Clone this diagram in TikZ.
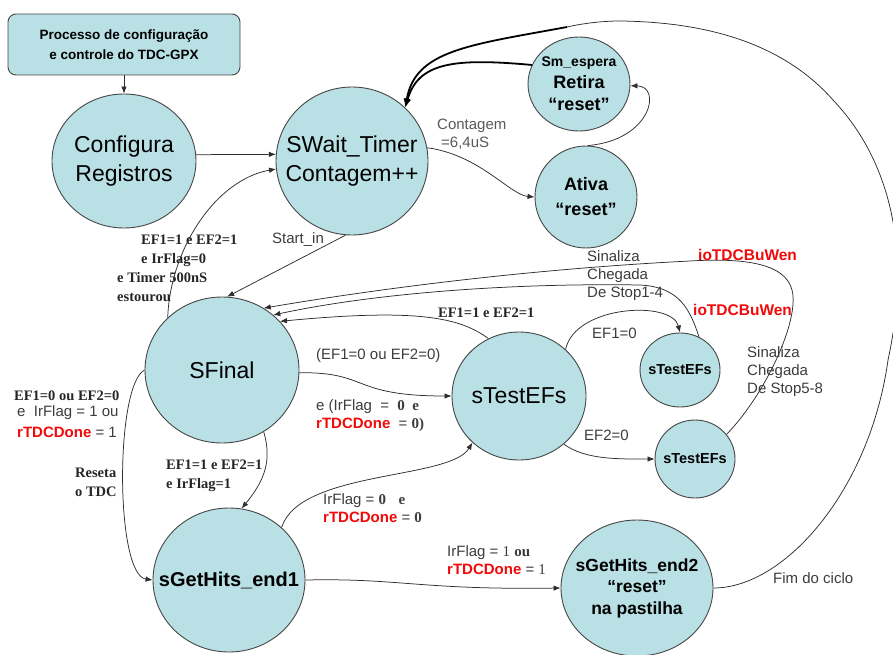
\documentclass[tikz,border=0pt]{standalone}
\usepackage{fontspec}
\setmainfont{Liberation Sans}
\newfontfamily\tnr{Liberation Serif}
\usetikzlibrary{shapes.geometric,arrows.meta}
\definecolor{fillc}{RGB}{185,224,228}
\definecolor{edgec}{RGB}{70,70,70}
\definecolor{linec}{RGB}{45,45,45}
\definecolor{lblc}{RGB}{60,60,60}
\definecolor{redc}{RGB}{240,10,10}
\newcommand\rd[1]{\textcolor{redc}{\bfseries #1}}
\newcommand\tb[1]{{\tnr\bfseries #1}}
\begin{document}
\begin{tikzpicture}[x=1pt,y=-1pt,
  st/.style={ellipse,draw=edgec,fill=fillc,line width=0.9pt,inner sep=0pt},
  bigtxt/.style={align=center,font=\fontsize{23}{28.5}\selectfont},
  conn/.style={draw=linec,line width=0.75pt,-{Latex[length=7pt,width=5.5pt]}},
  heavy/.style={draw=black,line width=1.8pt,-{Latex[length=9pt,width=7pt]}},
  plain/.style={draw=linec,line width=0.75pt},
  lbl/.style={font=\fontsize{15}{18}\selectfont,text=lblc,inner sep=0pt,align=left,anchor=west},
  slbl/.style={font=\tnr\bfseries\fontsize{14.5}{19}\selectfont,text=black!85,inner sep=0pt,align=left,anchor=west},
  rlbl/.style={font=\bfseries\fontsize{15.5}{18}\selectfont,text=redc,inner sep=0pt,anchor=west}]
\useasboundingbox (0,0) rectangle (893,655);

% nodes
\node[draw=edgec,fill=fillc,line width=0.9pt,rounded corners=8pt,minimum width=232pt,minimum height=61pt,
      align=center,font=\bfseries\fontsize{13.5}{20}\selectfont] (box) at (124,44.5)
      {Processo de configuração\\e controle do TDC-GPX};
\node[st,minimum width=144pt,minimum height=134pt,label={[bigtxt]center:Configura\\Registros}] (cfg) at (124,161) {};
\node[st,minimum width=152pt,minimum height=148pt,label={[bigtxt]center:SWait\_Timer\\Contagem++}] (swait) at (352,161) {};
\node[st,minimum width=102pt,minimum height=94pt,
      label={[align=center,font=\bfseries\fontsize{18}{22}\selectfont]center:{\fontsize{14}{22}\selectfont Sm\_espera}\\Retira\\“reset”}] (sme) at (579,84) {};
\node[st,minimum width=102pt,minimum height=102pt,
      label={[align=center,font=\bfseries\fontsize{18}{25}\selectfont]center:Ativa\\“reset”}] (ativa) at (586,197) {};
\node[st,minimum width=154pt,minimum height=146pt,label={[bigtxt]center:SFinal}] (sfinal) at (222,370) {};
\node[st,minimum width=134pt,minimum height=128pt,label={[bigtxt]center:sTestEFs}] (stest) at (519,396) {};
\node[st,minimum width=80pt,minimum height=74pt,
      label={[font=\bfseries\fontsize{14.5}{17}\selectfont]center:sTestEFs}] (st1) at (680,370) {};
\node[st,minimum width=80pt,minimum height=78pt,
      label={[font=\bfseries\fontsize{14.5}{17}\selectfont]center:sTestEFs}] (st2) at (695,459) {};
\node[st,minimum width=152pt,minimum height=144pt,
      label={[font=\bfseries\fontsize{20}{24}\selectfont]center:sGetHits\_end1}] (gh1) at (229,580) {};
\node[st,minimum width=152pt,minimum height=136pt,
      label={[align=center,font=\bfseries\fontsize{17.5}{21.5}\selectfont]center:sGetHits\_end2\\“reset”\\na pastilha}] (gh2) at (637,588) {};

% connectors
\draw[conn] (box.south) -- (cfg.north);
\draw[conn] (cfg.5) -- (swait.175);
\draw[conn] (sfinal.136) .. controls (170,250) and (215,180) .. (swait.186);
\draw[conn] (swait.265) -- (sfinal.86);
\draw[conn] (swait.10) .. controls (480,155) and (510,195) .. (ativa.180);
\draw[conn] (ativa.88) .. controls (652,140) and (662,86) .. (sme.358);
\draw[heavy] (sme.158) .. controls (455,58) and (418,62) .. (swait.45);
\coordinate (arcj) at (567,27);
\draw[plain] (gh2.0) .. controls (785,588) and (870,490) .. (888,360)
   .. controls (912,250) and (890,160) .. (833,100)
   .. controls (780,40) and (700,22) .. (620,21)
   .. controls (600,21) and (580,24) .. (arcj);
\draw[heavy] (arcj) .. controls (470,45) and (415,50) .. (swait.45);
\draw[conn] (stest.118) .. controls (460,318) and (420,308) .. (sfinal.40);
\draw[conn] (st2.38) .. controls (765,395) and (800,320) .. (792,290)
   .. controls (785,262) and (740,258) .. (690,261)
   .. controls (550,268) and (400,285) .. (sfinal.56);
\draw[conn] (st1.60) .. controls (690,310) and (680,287) .. (640,285)
   .. controls (520,283) and (380,292) .. (sfinal.47);
\draw[conn] (sfinal.-2) .. controls (370,372) and (350,396) .. (stest.180);
\draw[conn] (stest.45) .. controls (575,305) and (672,300) .. (st1.90);
\draw[conn] (stest.-47) .. controls (585,460) and (620,459) .. (st2.180);
\draw[conn] (sfinal.-56) .. controls (272,460) and (265,480) .. (gh1.80);
\draw[conn] (sfinal.180) .. controls (115,385) and (115,575) .. (gh1.180);
\draw[conn] (gh1.45) .. controls (300,470) and (450,480) .. (stest.225);
\draw[conn] (gh1.0) .. controls (400,578) and (420,590) .. (gh2.180);

% labels
\node[lbl,text=black!65] (l1) at (437,134) {Contagem\\\hspace*{4pt}=6,4uS};
\node[lbl,anchor=center] (l2) at (298,240) {Start\_in};
\node[slbl] (l3) at (117,268) {\hspace*{24pt}EF1=1 e EF2=1\\\hspace*{24pt}e IrFlag=0\\e Timer 500nS\\estourou};
\node[slbl] (l4) at (14,396) {EF1=0 ou EF2=0};
\node[lbl] (l5) at (17,413) {e\ \ IrFlag = 1 ou};
\node[lbl] (l6) at (17,432) {\rd{rTDCDone} = 1};
\node[slbl] (l7) at (75,482) {Reseta\\o TDC};
\node[slbl] (l8) at (166,476) {EF1=1 e EF2=1\\e IrFlag=1};
\node[lbl] (l9) at (316,356) {(EF1=0 ou EF2=0)};
\node[lbl] (l10) at (316,416) {e (IrFlag\ \ =\ \ \tb{0\ \ e}\\\rd{rTDCDone}\ \ = \tb{0)}};
\node[slbl] (l11) at (438,313) {EF1=1 e EF2=1};
\node[lbl] (l12) at (587,276) {Sinaliza\\Chegada\\De Stop1-4};
\node[rlbl] (l13) at (698,255) {ioTDCBuWen};
\node[rlbl] (l14) at (693,310) {ioTDCBuWen};
\node[lbl] (l15) at (592,333) {EF1=0};
\node[lbl] (l16) at (747,372) {Sinaliza\\Chegada\\De Stop5-8};
\node[lbl] (l17) at (584,435) {EF2=0};
\node[lbl] (l18) at (323,508) {IrFlag = \tb{0}\ \ \ \tb{e}\\\rd{rTDCDone} = \tb{0}};
\node[lbl] (l19) at (447,560) {IrFlag = {\tnr 1} \tb{ou}\\\rd{rTDCDone} = {\tnr 1}};
\node[lbl] (l20) at (773,578) {Fim do ciclo};
\end{tikzpicture}
\end{document}
